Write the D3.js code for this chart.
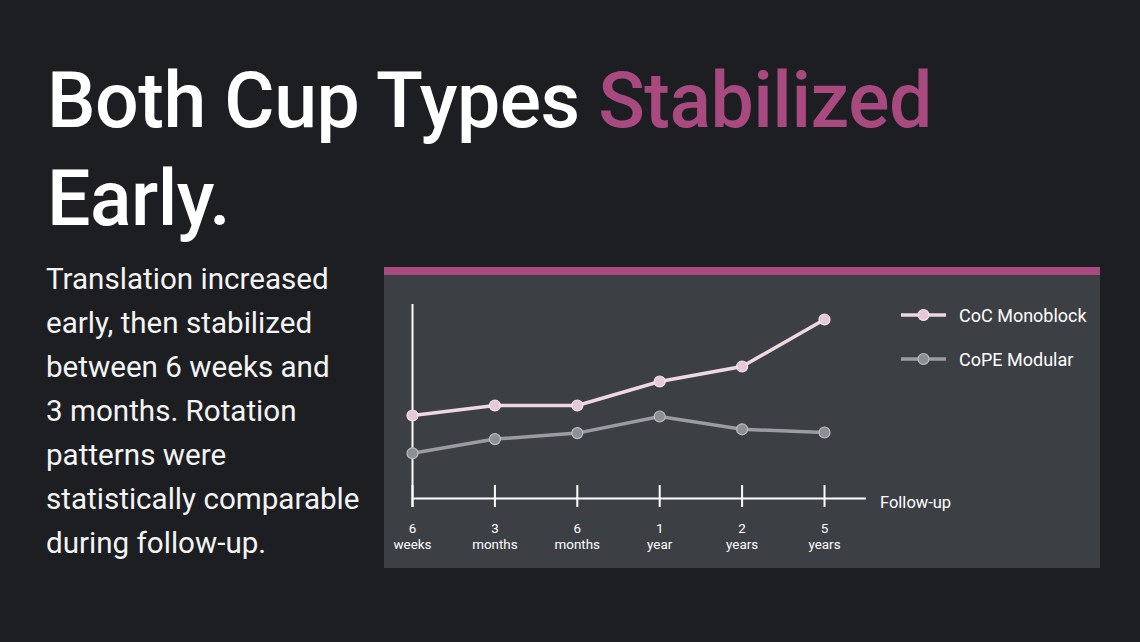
<!DOCTYPE html>
<html><head><meta charset="utf-8">
<script src="https://cdn.jsdelivr.net/npm/d3@7"></script>
<style>
html,body{margin:0;padding:0;background:#1c1e22;}
svg{display:block;}
</style></head>
<body>
<svg id="c" width="1140" height="642"></svg>
<script>
const categories = ["6 weeks","3 months","6 months","1 year","2 years","5 years"];
const tickLines = [["6","weeks"],["3","months"],["6","months"],["1","year"],["2","years"],["5","years"]];
const seriesNames = ["CoC Monoblock","CoPE Modular"];
const cocValues = [0.415, 0.465, 0.465, 0.585, 0.66, 0.895];
const copeValues = [0.226, 0.297, 0.327, 0.410, 0.346, 0.330];
const titleParts = ["Both Cup Types ", "Stabilized", "Early."];
const bodyLines = ["Translation increased","early, then stabilized","between 6 weeks and","3 months. Rotation","patterns were","statistically comparable","during follow-up."];

const svg = d3.select("#c");
svg.append("rect").attr("width",1140).attr("height",642).attr("fill","#1c1e22");

// Title
const t1 = svg.append("text").attr("x",47).attr("y",127)
  .attr("font-family","Roboto").attr("font-weight",500).attr("font-size",77).attr("letter-spacing",-0.5).attr("fill","#ffffff");
t1.append("tspan").text(titleParts[0]);
t1.append("tspan").attr("fill","#a84a7f").text(titleParts[1]);
svg.append("text").attr("x",47).attr("y",225)
  .attr("font-family","Roboto").attr("font-weight",500).attr("font-size",77).attr("letter-spacing",-0.5).attr("fill","#ffffff").text(titleParts[2]);

// Body
svg.append("g").selectAll("text").data(bodyLines).join("text")
  .attr("x",46).attr("y",(d,i)=>289+i*44)
  .attr("font-family","Roboto").attr("font-size",29.6).attr("fill","#f4f4f4").text(d=>d);

// Panel
svg.append("rect").attr("x",384).attr("y",267).attr("width",716).attr("height",301).attr("fill","#3c3f44");
svg.append("rect").attr("x",384).attr("y",267).attr("width",716).attr("height",8).attr("fill","#a84a7f");

const x = d3.scalePoint().domain(categories).range([412.5, 824.5]);
const y = d3.scaleLinear().domain([0,1]).range([498.5, 298.5]);

// axes
const g = svg.append("g");
g.append("line").attr("x1",412.5).attr("x2",412.5).attr("y1",304).attr("y2",507).attr("stroke","#ffffff").attr("stroke-width",2);
const xAxis = g.append("g").attr("transform","translate(0,498.5)")
  .call(d3.axisBottom(x).tickSize(0).tickFormat(""));
xAxis.select(".domain").remove();
g.append("line").attr("x1",412.5).attr("x2",866).attr("y1",498.5).attr("y2",498.5).attr("stroke","#ffffff").attr("stroke-width",2);
g.selectAll(".tk").data(categories).join("line").attr("class","tk")
  .attr("x1",d=>x(d)).attr("x2",d=>x(d)).attr("y1",485).attr("y2",507)
  .attr("stroke","#ffffff").attr("stroke-width",2);
const lbl = g.selectAll(".tl").data(categories).join("text").attr("class","tl")
  .attr("x",d=>x(d)).attr("text-anchor","middle")
  .attr("font-family","Roboto").attr("font-size",13.4).attr("fill","#ffffff");
lbl.append("tspan").attr("x",d=>x(d)).attr("y",533).text((d,i)=>tickLines[i][0]);
lbl.append("tspan").attr("x",d=>x(d)).attr("y",549).text((d,i)=>tickLines[i][1]);
g.append("text").attr("x",880).attr("y",507.5).attr("font-family","Roboto").attr("font-size",16.5)
  .attr("fill","#ffffff").text("Follow-up");

const line = d3.line().x((d,i)=>x(categories[i])).y(d=>y(d));
const styles = [
  {values:cocValues, line:"#f0d8e3", fill:"#e6c9d6", stroke:"#f6e6ee"},
  {values:copeValues, line:"#9c9ca0", fill:"#8e8f93", stroke:"#bdbdc1"}
];
styles.forEach(s=>{
  svg.append("path").datum(s.values).attr("d",line).attr("fill","none")
    .attr("stroke",s.line).attr("stroke-width",3.5);
  svg.append("g").selectAll("circle").data(s.values).join("circle")
    .attr("cx",(d,i)=>x(categories[i])).attr("cy",d=>y(d)).attr("r",5.5)
    .attr("fill",s.fill).attr("stroke",s.stroke).attr("stroke-width",1.2);
});

// legend
const lg = svg.append("g");
styles.forEach((s,i)=>{
  const yy = 315 + i*44;
  lg.append("line").attr("x1",901).attr("x2",946).attr("y1",yy).attr("y2",yy).attr("stroke",s.line).attr("stroke-width",3.5);
  lg.append("circle").attr("cx",923.5).attr("cy",yy).attr("r",5.5).attr("fill",s.fill).attr("stroke",s.stroke).attr("stroke-width",1.2);
  lg.append("text").attr("x",959).attr("y",yy+6.5).attr("font-family","Roboto").attr("font-size",18)
    .attr("fill","#ffffff").text(seriesNames[i]);
});
</script>
</body></html>
